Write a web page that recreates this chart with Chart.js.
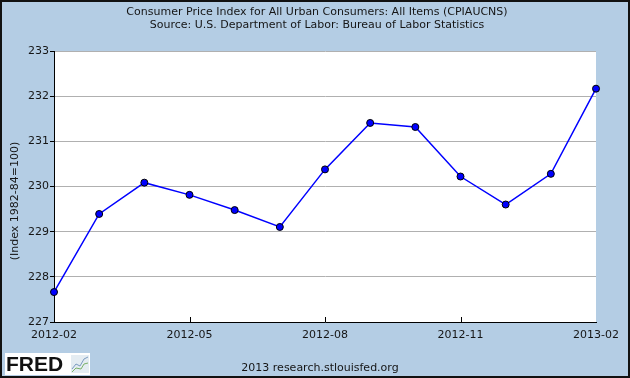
<!DOCTYPE html>
<html>
<head>
<meta charset="utf-8">
<script src="https://cdn.jsdelivr.net/npm/chart.js@4/dist/chart.umd.min.js"></script>
<style>
  html, body { margin: 0; padding: 0; background: #b4cde4; }
  canvas { display: block; }
</style>
</head>
<body>
<canvas id="cpi" width="630" height="378"></canvas>
<script>
const months = [
  '2012-02', '2012-03', '2012-04', '2012-05', '2012-06', '2012-07', '2012-08',
  '2012-09', '2012-10', '2012-11', '2012-12', '2013-01', '2013-02',
];
const cpiValues = [
  227.663, 229.392, 230.085, 229.815, 229.478, 229.104, 230.379,
  231.407, 231.317, 230.221, 229.601, 230.280, 232.166,
];
const yMin = 227;
const yMax = 233;
const titleLines = [
  'Consumer Price Index for All Urban Consumers: All Items (CPIAUCNS)',
  'Source: U.S. Department of Labor: Bureau of Labor Statistics',
];
const yTitle = '(Index 1982-84=100)';
const footer = '2013 research.stlouisfed.org';

const FONT = "'DejaVu Sans', sans-serif";
const bg = '#b4cde4';
const textColor = '#151515';

// background, white plot area, titles, logo, inner x ticks
const decor = {
  id: 'decor',
  beforeDraw(chart) {
    const { ctx, chartArea: a } = chart;
    ctx.save();
    ctx.fillStyle = bg;
    ctx.fillRect(0, 0, chart.width, chart.height);
    ctx.fillStyle = '#fff';
    ctx.fillRect(a.left, a.top, a.right - a.left, a.bottom - a.top);
    ctx.restore();
  },
  afterDraw(chart) {
    const { ctx, chartArea: a } = chart;
    const x = chart.scales.x;
    ctx.save();
    // x tick marks pointing into the plot
    ctx.strokeStyle = '#000';
    ctx.lineWidth = 1;
    months.forEach((m, i) => {
      if (i % 3 !== 0 || i === 0 || i === months.length - 1) return;
      const px = Math.round(x.getPixelForValue(i)) + 0.5;
      ctx.beginPath();
      ctx.moveTo(px, a.bottom);
      ctx.lineTo(px, a.bottom - 5);
      ctx.stroke();
    });

    ctx.fillStyle = textColor;
    ctx.font = '11px ' + FONT;
    ctx.textAlign = 'center';
    ctx.textBaseline = 'middle';
    ctx.fillText(titleLines[0], 317, 12);
    ctx.fillText(titleLines[1], 317, 25);
    ctx.fillText(footer, 320, 368);

    ctx.save();
    ctx.translate(15, 201);
    ctx.rotate(-Math.PI / 2);
    ctx.fillText(yTitle, 0, 0);
    ctx.restore();

    // FRED logo
    ctx.fillStyle = '#fff';
    ctx.fillRect(5, 353, 85, 22);
    ctx.fillStyle = '#111';
    ctx.font = "bold 21px 'Liberation Sans', sans-serif";
    ctx.textAlign = 'left';
    ctx.textBaseline = 'alphabetic';
    ctx.fillText('FRED', 6, 371, 60);
    ctx.fillStyle = '#e4ecf2';
    ctx.fillRect(71, 355, 18, 18);
    ctx.lineWidth = 1;
    ctx.strokeStyle = '#7a9abf';
    ctx.beginPath();
    ctx.moveTo(72, 369); ctx.lineTo(76, 364); ctx.lineTo(80, 366); ctx.lineTo(84, 359); ctx.lineTo(88, 357);
    ctx.stroke();
    ctx.strokeStyle = '#7bb26a';
    ctx.beginPath();
    ctx.moveTo(72, 372); ctx.lineTo(76, 368); ctx.lineTo(81, 369); ctx.lineTo(84, 364); ctx.lineTo(88, 363);
    ctx.stroke();

    // outer frame
    ctx.strokeStyle = '#111';
    ctx.lineWidth = 2;
    ctx.strokeRect(1, 1, chart.width - 2, chart.height - 2);
    ctx.restore();
  },
};

new Chart(document.getElementById('cpi').getContext('2d'), {
  type: 'line',
  data: {
    labels: months,
    datasets: [
      {
        data: cpiValues,
        borderColor: '#0000ff',
        borderWidth: 1.5,
        pointBackgroundColor: '#0000ff',
        pointBorderColor: '#000',
        pointBorderWidth: 1,
        pointRadius: 3.5,
        tension: 0,
        clip: false,
      },
    ],
  },
  options: {
    responsive: false,
    animation: false,
    events: [],
    layout: { padding: { top: 51, right: 34, left: 0, bottom: 0 } },
    plugins: { legend: { display: false }, title: { display: false }, tooltip: { enabled: false } },
    scales: {
      x: {
        offset: false,
        grid: { display: true, drawOnChartArea: false, drawTicks: false },
        border: { display: true, color: '#000', width: 1 },
        ticks: {
          autoSkip: false,
          maxRotation: 0,
          padding: 7,
          color: textColor,
          font: { family: FONT, size: 11 },
          callback: (v, i) => (i % 3 === 0 ? months[i] : null),
        },
        afterFit: (s) => { s.height = 56; },
      },
      y: {
        min: yMin,
        max: yMax,
        grid: { color: '#b0b0b0', tickColor: '#000', tickLength: 4, lineWidth: 1 },
        border: { display: true, color: '#000', width: 1 },
        ticks: {
          stepSize: 1,
          padding: 1,
          color: textColor,
          font: { family: FONT, size: 11 },
        },
        afterFit: (s) => { s.width = 54; },
      },
    },
  },
  plugins: [decor],
});
</script>
</body>
</html>
